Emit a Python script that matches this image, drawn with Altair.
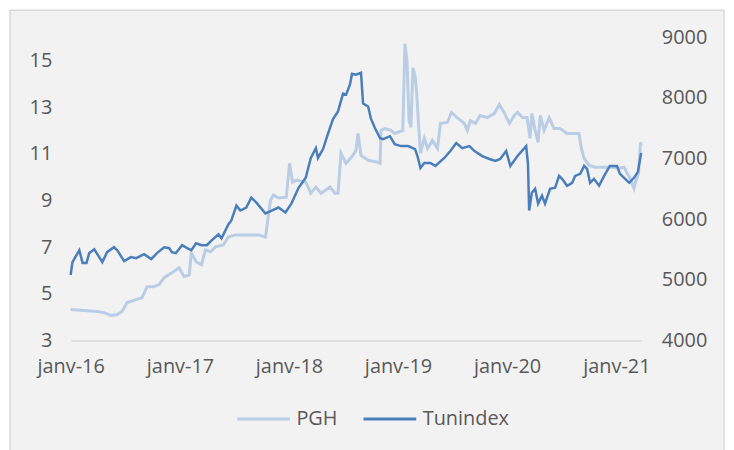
import altair as alt
import pandas as pd

SERIES = ["PGH", "Tunindex"]
COLORS = ["#b9cde5", "#4a7ebb"]
YEARS = [2016, 2017, 2018, 2019, 2020, 2021]
LEFT_TICKS = [3, 5, 7, 9, 11, 13, 15]
RIGHT_TICKS = [4000, 5000, 6000, 7000, 8000, 9000]

PGH_DATES = ["2016-01-01", "2016-02-16", "2016-03-29", "2016-04-22", "2016-05-15", "2016-06-05", "2016-06-21",
             "2016-07-08", "2016-08-07", "2016-08-27", "2016-09-13", "2016-10-06", "2016-10-23", "2016-11-09",
             "2016-12-05", "2016-12-29", "2017-01-15", "2017-02-01", "2017-02-08", "2017-02-24", "2017-03-14",
             "2017-03-27", "2017-04-13", "2017-04-30", "2017-05-26", "2017-06-12", "2017-07-05", "2017-08-18",
             "2017-09-21", "2017-10-14", "2017-10-20", "2017-10-31", "2017-11-10", "2017-11-27", "2017-12-23",
             "2018-01-03", "2018-01-13", "2018-01-26", "2018-02-26", "2018-03-15", "2018-04-01", "2018-04-18",
             "2018-05-18", "2018-06-04", "2018-06-14", "2018-06-24", "2018-07-11", "2018-08-03", "2018-08-13",
             "2018-08-20", "2018-08-30", "2018-09-23", "2018-10-26", "2018-11-02", "2018-11-05", "2018-11-18",
             "2018-12-08", "2018-12-21", "2019-01-17", "2019-01-24", "2019-01-31", "2019-02-07", "2019-02-13",
             "2019-02-20", "2019-02-27", "2019-03-04", "2019-03-11", "2019-03-17", "2019-03-30", "2019-04-10",
             "2019-04-26", "2019-05-13", "2019-05-23", "2019-06-15", "2019-06-29", "2019-07-18", "2019-08-11",
             "2019-08-21", "2019-08-31", "2019-09-17", "2019-10-03", "2019-10-27", "2019-11-19", "2019-12-06",
             "2019-12-22", "2020-01-09", "2020-01-25", "2020-02-05", "2020-02-22", "2020-03-08", "2020-03-18",
             "2020-03-24", "2020-04-04", "2020-04-14", "2020-04-21", "2020-05-04", "2020-05-21", "2020-06-06",
             "2020-06-26", "2020-07-20", "2020-08-12", "2020-08-29", "2020-09-05", "2020-09-15", "2020-10-01",
             "2020-10-21", "2020-11-21", "2020-12-17", "2021-01-10", "2021-01-27", "2021-02-06", "2021-02-16",
             "2021-03-01", "2021-03-06", "2021-03-16", "2021-03-23", "2021-03-25"]
PGH_VALUES = [4.32, 4.28, 4.24, 4.19, 4.07, 4.11, 4.24,
              4.62, 4.75, 4.83, 5.30, 5.30, 5.39, 5.69,
              5.90, 6.11, 5.73, 5.81, 6.75, 6.37, 6.24,
              6.88, 6.80, 7.01, 7.09, 7.43, 7.52, 7.52,
              7.52, 7.43, 7.95, 9.01, 9.23, 9.10, 9.14,
              10.59, 9.78, 9.87, 9.78, 9.31, 9.57, 9.31,
              9.57, 9.31, 9.31, 11.02, 10.59, 10.93, 11.14,
              11.87, 10.93, 10.72, 10.63, 10.59, 12.00, 12.08,
              12.00, 11.87, 12.00, 15.71, 14.98, 12.42, 12.13,
              14.68, 14.34, 13.70, 12.21, 11.02, 11.66, 11.23,
              11.57, 11.23, 12.30, 12.34, 12.77, 12.55, 12.30,
              12.00, 12.42, 12.30, 12.64, 12.55, 12.72, 13.11,
              12.77, 12.30, 12.64, 12.77, 12.55, 12.55, 11.66,
              12.72, 12.00, 11.49, 12.64, 12.00, 12.55, 12.08,
              12.08, 11.87, 11.87, 11.87, 11.27, 10.80, 10.51,
              10.42, 10.42, 10.42, 10.38, 10.42, 10.16, 9.95,
              9.52, 9.78, 10.16, 11.49, 11.36]

TUN_DATES = ["2016-01-01", "2016-01-07", "2016-01-30", "2016-02-10", "2016-02-23", "2016-03-03", "2016-03-20",
             "2016-04-16", "2016-05-02", "2016-05-25", "2016-06-05", "2016-06-28", "2016-07-21", "2016-08-07",
             "2016-09-03", "2016-09-27", "2016-10-16", "2016-11-09", "2016-11-26", "2016-12-05", "2016-12-18",
             "2017-01-08", "2017-01-25", "2017-02-08", "2017-02-24", "2017-03-14", "2017-04-01", "2017-04-17",
             "2017-05-10", "2017-05-20", "2017-06-12", "2017-06-22", "2017-07-09", "2017-07-22", "2017-08-11",
             "2017-08-28", "2017-09-14", "2017-10-14", "2017-11-04", "2017-11-27", "2017-12-20", "2018-01-09",
             "2018-02-02", "2018-02-26", "2018-03-15", "2018-04-01", "2018-04-08", "2018-04-25", "2018-05-11",
             "2018-05-28", "2018-06-14", "2018-07-01", "2018-07-11", "2018-07-24", "2018-07-31", "2018-08-13",
             "2018-08-30", "2018-09-06", "2018-09-23", "2018-10-02", "2018-10-16", "2018-11-02", "2018-11-12",
             "2018-12-05", "2018-12-21", "2019-01-11", "2019-02-04", "2019-02-27", "2019-03-07", "2019-03-17",
             "2019-03-30", "2019-04-19", "2019-05-06", "2019-06-05", "2019-06-25", "2019-07-15", "2019-08-04",
             "2019-08-28", "2019-09-14", "2019-10-10", "2019-11-03", "2019-11-23", "2019-12-09", "2019-12-29",
             "2020-01-12", "2020-02-05", "2020-02-28", "2020-03-05", "2020-03-11", "2020-03-15", "2020-03-24",
             "2020-04-04", "2020-04-14", "2020-04-27", "2020-05-07", "2020-05-24", "2020-06-10", "2020-06-23",
             "2020-07-03", "2020-07-20", "2020-08-06", "2020-08-16", "2020-09-02", "2020-09-15", "2020-09-25",
             "2020-10-05", "2020-10-18", "2020-11-04", "2020-11-21", "2020-12-10", "2021-01-03", "2021-01-13",
             "2021-02-13", "2021-03-01", "2021-03-14", "2021-03-25"]
TUN_VALUES = [5078, 5291, 5487, 5275, 5275, 5438, 5503,
              5291, 5454, 5536, 5487, 5307, 5373, 5356,
              5422, 5340, 5438, 5536, 5520, 5454, 5438,
              5569, 5520, 5487, 5601, 5569, 5569, 5650,
              5748, 5683, 5912, 5977, 6222, 6141, 6190,
              6353, 6271, 6092, 6141, 6190, 6108, 6255,
              6516, 6680, 7007, 7170, 7007, 7154, 7399,
              7644, 7775, 8069, 8052, 8216, 8395, 8379,
              8412, 7905, 7856, 7660, 7497, 7333, 7317,
              7366, 7235, 7203, 7203, 7154, 7039, 6843,
              6925, 6925, 6876, 7007, 7121, 7252, 7170,
              7203, 7121, 7039, 6990, 6958, 6990, 7121,
              6876, 7039, 7170, 7203, 6909, 6140, 6435,
              6500, 6255, 6386, 6255, 6500, 6516, 6712,
              6663, 6549, 6598, 6712, 6745, 6876, 6827,
              6598, 6663, 6549, 6712, 6876, 6876, 6745,
              6598, 6680, 6778, 7088]

FONT = "Open Sans"
TEXT_COLOR = "#595959"

pgh = pd.DataFrame({"date": PGH_DATES, "value": PGH_VALUES, "series": SERIES[0]})
tun = pd.DataFrame({"date": TUN_DATES, "value": TUN_VALUES, "series": SERIES[1]})

x_scale = alt.Scale(type="utc", domain=[alt.DateTime(year=2016, month=1, date=1, utc=True),
                                        alt.DateTime(year=2021, month=3, date=26, utc=True)])
x_axis = alt.Axis(title=None, values=[alt.DateTime(year=y, month=1, date=1, utc=True) for y in YEARS],
                  labelExpr="'janv-' + utcFormat(datum.value, '%y')", ticks=False, tickSize=0,
                  domainColor="#d9d9d9", domainWidth=1.5, labelPadding=16, labelFlush=False, zindex=1)

color = alt.Color("series:N", scale=alt.Scale(domain=SERIES, range=COLORS),
                  legend=alt.Legend(title=None, orient="none", legendX=166, legendY=356,
                                    direction="horizontal", symbolType="stroke", symbolSize=2809,
                                    symbolStrokeWidth=3, labelFontSize=20, labelColor=TEXT_COLOR,
                                    labelFont=FONT, labelOffset=5, columnPadding=19))

frame = alt.Chart(pd.DataFrame({"k": [0]})).mark_rect(fill="#f2f2f2", stroke="#d9d9d9", strokeWidth=1.5).encode(
    x=alt.value(-61), x2=alt.value(657), y=alt.value(-27), y2=alt.value(440))

pgh_line = alt.Chart(pgh).mark_line(strokeWidth=3).encode(
    x=alt.X("date:T", scale=x_scale, axis=x_axis),
    y=alt.Y("value:Q", scale=alt.Scale(domain=[3, 16], nice=False, zero=False),
            axis=alt.Axis(title=None, orient="left", values=LEFT_TICKS, ticks=False, tickSize=0,
                          domain=False, grid=False, labelPadding=19, zindex=1)),
    color=color,
)

tun_line = alt.Chart(tun).mark_line(strokeWidth=2.5).encode(
    x=alt.X("date:T", scale=x_scale, axis=x_axis),
    y=alt.Y("value:Q", scale=alt.Scale(domain=[4000, 9000], nice=False, zero=False),
            axis=alt.Axis(title=None, orient="right", values=RIGHT_TICKS, format="d", ticks=False,
                          tickSize=0, domain=False, grid=False, labelPadding=20, zindex=1)),
    color=color,
)

chart = alt.layer(frame, pgh_line, tun_line).resolve_scale(y="independent").properties(
    width=574, height=305,
    autosize=alt.AutoSizeParams(type="none"),
    padding={"left": 63, "top": 28, "right": 85, "bottom": 112},
    background="white",
).configure_view(stroke=None).configure_axis(
    grid=False, labelFont=FONT, labelFontSize=20, labelColor=TEXT_COLOR,
)

chart.save("out.html", embed_options={"renderer": "svg", "actions": False})
